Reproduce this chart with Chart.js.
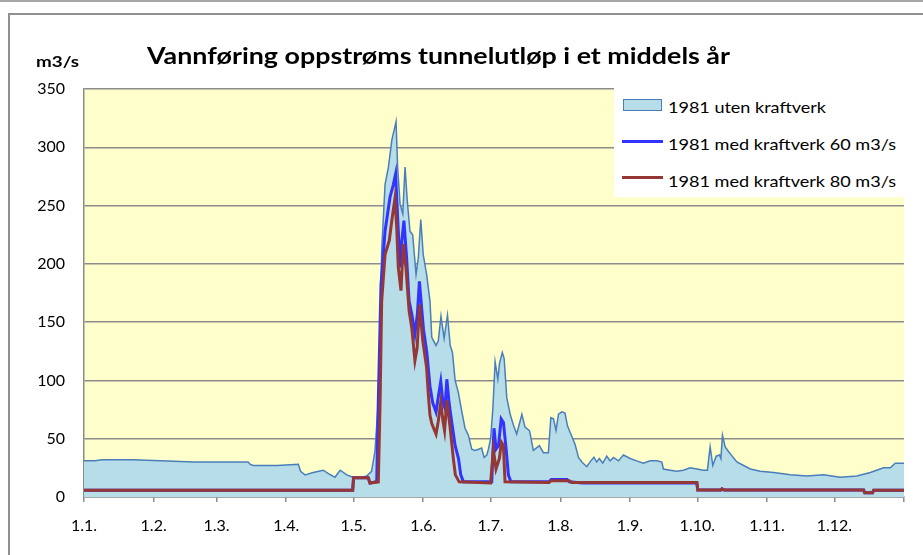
<!DOCTYPE html>
<html><head><meta charset="utf-8">
<script src="https://cdn.jsdelivr.net/npm/chart.js@4.4.1/dist/chart.umd.min.js"></script>
<style>
html,body{margin:0;padding:0;background:#fff;overflow:hidden;}
#wrap{position:relative;width:923px;height:555px;overflow:hidden;}
#topline{position:absolute;left:0;top:0;width:923px;height:2px;background:#a6a6a6;}
#frame{position:absolute;left:8px;top:13px;width:940px;height:600px;border:2px solid #8f8f8f;box-sizing:border-box;}
canvas{position:absolute;left:0;top:0;}
.txt{position:absolute;white-space:nowrap;font-family:Lato,'Liberation Sans',sans-serif;color:#000;transform-origin:0 50%;line-height:1;}
#title{font-weight:bold;font-size:22px;left:147px;top:45px;}
#unit{font-weight:bold;font-size:15px;left:36px;top:54px;}
#legend{position:absolute;left:614px;top:86px;width:292px;height:111px;background:#fff;}
.sw{position:absolute;}
.lt{font-size:16px;}
</style></head>
<body><div id="wrap">
<div id="topline"></div>
<div id="frame"></div>
<canvas id="c" width="923" height="555"></canvas>
<div class="txt" id="title" data-w="583">Vannføring oppstrøms tunnelutløp i et middels år</div>
<div class="txt" id="unit" data-w="43">m3/s</div>
<div id="legend"></div>
</div>
<script>
// ---- data ----
const seriesNames = ['1981 uten kraftverk', '1981 med kraftverk 60 m3/s', '1981 med kraftverk 80 m3/s'];
const tickDays = [0,31,59,90,120,151,181,212,243,273,304,334,365];
const tickLabels = ['1.1.','1.2.','1.3.','1.4.','1.5.','1.6.','1.7.','1.8.','1.9.','1.10.','1.11.','1.12.',''];
const yTicks = [0,50,100,150,200,250,300,350];

const utenDays = [0,5,8,22,34,49,63,73,74,75.4,86,95.4,96.4,98.4,102,106.5,108.8,111.7,114,117,
119.6,120.2,124,125.8,128,129.5,131,131.8,132.5,134,135.5,137,138.9,139.6,140.7,141.9,142.9,143.9,145.1,146.3,
147.8,148.8,149.9,151,152.5,154,154.8,156.7,157.7,158.9,160.3,161.8,163,164,165.2,166.6,168.2,169.6,171.1,172.6,
174,175.6,177,178.1,179.3,180,181,182,183,184.2,185,186.2,187,188.2,189.7,191.1,192.6,193.7,194.9,196.3,
198.3,199,200,202.7,204.5,206.7,207.8,209,210.1,211.2,212.7,214.1,215.2,216.7,218.6,220.1,221.6,223.8,225.6,227,
228.2,229.4,230.9,232.7,234.2,235.7,237.9,240.1,243.1,246,249,252,255,257.2,257.9,260.9,263.9,266.8,269.8,272.8,
275.7,277.5,278.7,279.9,281.4,282.9,283.5,284.2,285.4,286.9,287.7,290.6,293.6,296.6,301,307,314.4,321.8,329.2,336.6,
344,350,355.9,358.9,361.1,365];
const utenVals = [31,31,32,32,31,30,30,30,28,27,27,28,22,19,21,23,20,17,23,19,
17,16,17,18,22,39,82,140,211,268,283,306,322,283,251,243,283,254,228,225,
191,205,238,208,191,168,137,130,134,155,136,156,130,124,100,90,73,59,53,41,
40,41,42,34,36,41,50,76,116,101,115,124,119,85,71,62,54,62,71,60,
57,50,40,44,38,38,68,67,57,71,73,72,61,54,45,34,30,26,31,34,
30,33,29,35,31,34,31,36,33,31,29,31,31,30,24,23,22,23,25,24,
23,23,43,27,35,36,33,53,43,39,37,30,27,24,22,21,19,18,19,17,
18,21,25,25,29,29];

const med60Days = [0,119.6,120,126.5,127.3,130.3,131,132.2,134,136.2,137.7,138.7,139.6,140.7,141.5,142.4,143.6,144.7,145.9,147.3,
148.4,149.3,150.3,151.1,152.6,154,155.2,156.7,157.8,158.8,159.8,160.7,161.5,162.5,163.7,165.2,166.7,167.7,168.9,181.5,
182.5,183.4,184.5,185.7,186.7,187.9,188.9,190,207,208,215,216,222,272.8,273.2,283.5,284,285,347,347.5,351,351.5,365];
const med60Vals = [5.7,5.7,16.6,16.6,12,13,82,182,228,257,268,277,240,197,220,237,205,168,157,140,
157,185,162,144,124,95,81,73,87,99,81,76,101,81,64,44,33,19,13,13,
59,41,44,67,64,41,19,13,13,15,15,13,12,12,6,6,7,6,6,3.7,3.7,5.7,5.7];

const med80Days = [0,119.6,120,126.5,127.3,131,131.8,132.5,134,135.9,137,138.4,139.2,139.9,141.1,142.1,143.3,144.7,145.9,147.3,
148.3,149.3,150.8,152.5,153.2,154,154.8,156.7,157.7,158.8,159.8,160.5,161.5,163,164.4,165.3,167,181,182.2,183.4,
184.9,185.8,186.7,187.4,207,208,216,217,272.8,273.2,283.5,284,285,347,347.5,351,351.5,365];
const med80Vals = [5.7,5.7,16.6,16.6,12,13,82,168,208,220,237,256,231,197,177,217,197,160,145,117,
128,165,134,111,90,70,63,54,65,81,65,57,83,59,33,19,13,12,41,24,
33,47,44,13,12.5,14,14,12.5,12.5,6,6,7,6,6,3.7,3.7,5.7,5.7];

// ---- styles ----
const colors = {
  areaFill: '#B7DDE8', areaLine: '#4A7EBB',
  blue: '#3333FF', red: '#953735',
  grid: '#8c8c8c', plotBg: '#FFFFCC'
};
const pairs = (xs, ys) => xs.map((x, i) => ({x: x, y: ys[i]}));

const bgPlugin = {
  id: 'plotBg',
  beforeDraw(chart) {
    const a = chart.chartArea, c = chart.ctx;
    c.save(); c.fillStyle = colors.plotBg;
    c.fillRect(a.left, a.top, a.right - a.left, a.bottom - a.top);
    c.restore();
  }
};

const tickFont = {family: 'Lato', size: 16};
new Chart(document.getElementById('c'), {
  type: 'line',
  data: {
    datasets: [
      {label: seriesNames[0], data: pairs(utenDays, utenVals), fill: 'origin',
       backgroundColor: colors.areaFill, borderColor: colors.areaLine, borderWidth: 1.5,
       pointRadius: 0, tension: 0, order: 3},
      {label: seriesNames[1], data: pairs(med60Days, med60Vals), fill: false,
       borderColor: colors.blue, borderWidth: 3, pointRadius: 0, tension: 0, order: 2},
      {label: seriesNames[2], data: pairs(med80Days, med80Vals), fill: false,
       borderColor: colors.red, borderWidth: 3, pointRadius: 0, tension: 0, order: 1}
    ]
  },
  options: {
    responsive: false, animation: false, devicePixelRatio: 1,
    layout: {padding: {top: 89, right: 19, bottom: 0, left: 0}},
    plugins: {legend: {display: false}, tooltip: {enabled: false}, title: {display: false}},
    scales: {
      x: {
        type: 'linear', min: 0, max: 365,
        afterBuildTicks: s => { s.ticks = tickDays.map(v => ({value: v})); },
        afterFit: s => { s.height = 58; },
        grid: {drawOnChartArea: false, drawTicks: true, tickLength: 5, color: colors.grid, lineWidth: 1.5},
        border: {display: true, color: colors.grid, width: 1.5},
        ticks: {autoSkip: false, maxRotation: 0, padding: 14, font: tickFont, color: '#000',
                callback: (v, i) => tickLabels[i]}
      },
      y: {
        min: 0, max: 350,
        afterBuildTicks: s => { s.ticks = yTicks.map(v => ({value: v})); },
        afterFit: s => { s.width = 84; },
        grid: {color: colors.grid, lineWidth: 1.5, drawTicks: false},
        border: {display: true, color: colors.grid, width: 1.5},
        ticks: {padding: 19, font: tickFont, color: '#000'}
      }
    }
  },
  plugins: [bgPlugin]
});

// ---- legend (HTML) ----
const leg = document.getElementById('legend');
const legRows = [
  {top: 13, sw: 'left:9px;top:13px;width:39px;height:12px;box-sizing:border-box;background:' + colors.areaFill + ';border:1.5px solid ' + colors.areaLine + ';', w: 158},
  {top: 50, sw: 'left:8px;top:53.5px;width:41px;height:3px;background:' + colors.blue + ';', w: 228},
  {top: 87, sw: 'left:8px;top:89.5px;width:41px;height:3px;background:' + colors.red + ';', w: 228}
];
legRows.forEach((r, i) => {
  const s = document.createElement('div'); s.className = 'sw'; s.style.cssText = r.sw; leg.appendChild(s);
  const t = document.createElement('div'); t.className = 'txt lt'; t.textContent = seriesNames[i];
  t.style.left = '54px'; t.style.top = r.top + 'px'; t.dataset.w = r.w; leg.appendChild(t);
});

function fit() {
  document.querySelectorAll('[data-w]').forEach(el => {
    el.style.transform = 'none';
    const w = el.getBoundingClientRect().width;
    if (w > 0) el.style.transform = 'scaleX(' + (parseFloat(el.dataset.w) / w) + ')';
  });
}
fit();
if (document.fonts && document.fonts.ready) document.fonts.ready.then(fit);
</script>
</body></html>
